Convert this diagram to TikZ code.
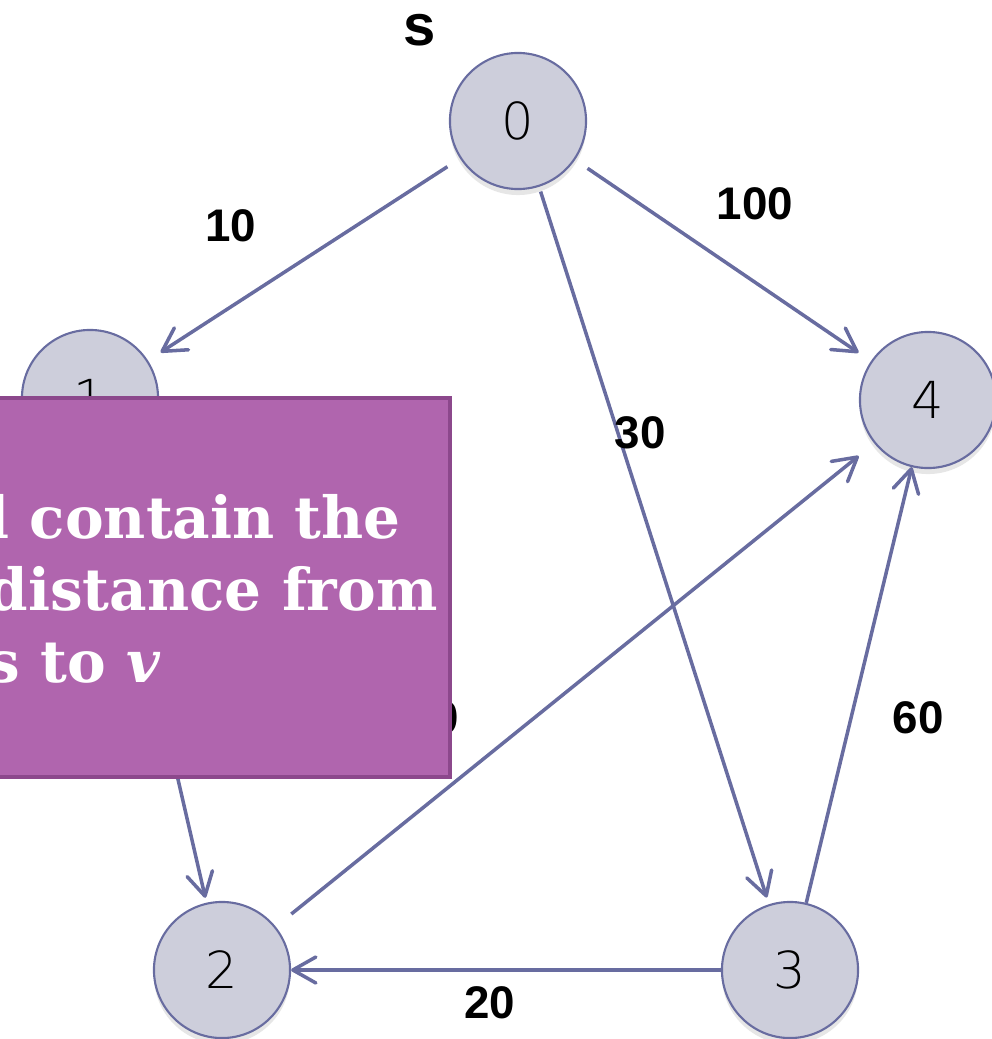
\documentclass[tikz,border=0pt]{standalone}
\usepackage{fontspec}
\setmainfont{Liberation Sans}
\newfontfamily\numfont{DejaVu Sans ExtraLight}
\newfontfamily\notefont{DejaVu Serif}
\usetikzlibrary{arrows.meta,shadows}
\definecolor{nodefill}{RGB}{205,206,219}
\definecolor{edgeblue}{RGB}{104,108,160}
\definecolor{notefill}{RGB}{176,101,174}
\definecolor{noteline}{RGB}{140,72,140}
\tikzset{
  >={Straight Barb[length=2.3mm,width=2.6mm,round]},
  v/.style={circle,draw=edgeblue,fill=nodefill,line width=0.6pt,minimum size=13.6mm,inner sep=0pt,
    font=\numfont\fontsize{14.5}{14.5}\selectfont,
    drop shadow={opacity=0.2,shadow xshift=0pt,shadow yshift=-0.6mm}},
  e/.style={->,draw=edgeblue,line width=1pt},
  gap/.style={shorten <=#1,shorten >=#1},
  wt/.style={font=\bfseries\fontsize{13}{13}\selectfont,inner sep=0pt},
  note/.style={anchor=base west,text=white,inner sep=0pt,font=\notefont\bfseries\fontsize{16.5}{20}\selectfont},
}
\begin{document}
\begin{tikzpicture}[x=0.01cm,y=-0.01cm]
\clip (0,0) rectangle (992,1039);
% vertices
\node[v] (n0) at (518,121) {0}; \node[v] (n1) at (90,398) {1};
\node[v] (n2) at (222,970) {2}; \node[v] (n3) at (790,970) {3};
\node[v] (n4) at (928,400) {4};
% edges
\draw[e,gap=1.5mm] (n0)--(n1); \draw[e,gap=1.5mm] (n0)--(n4);
\draw[e,shorten <=0.5mm,shorten >=0.7mm] (n0)--(n3); \draw[e] (n3)--(n4);
\draw[e,gap=2mm] (n2)--(n4); \draw[e] (n3)--(n2); \draw[e,shorten >=0.5mm] (n1)--(n2);
% weights
\node[wt,font=\bfseries\fontsize{16.5}{16.5}\selectfont] (src) at (420,30) {s};
\node[wt] (w01) at (231,226) {10}; \node[wt] (w04) at (755,204) {100};
\node[wt] (w03) at (640,433) {30}; \node[wt] (w34) at (918,718) {60};
\node[wt] (w32) at (490,1003) {20}; \node[wt] (w24) at (434,718) {10};
% callout box
\fill[notefill,draw=noteline,line width=1.2pt] (-5,398) rectangle (450,777);
\node[note] (note1) at (-13,538) {l contain the};
\node[note] (note2) at (-13,610) {distance from};
\node[note] (note3) at (-13,682) {s to \textit{v}};
\end{tikzpicture}
\end{document}
